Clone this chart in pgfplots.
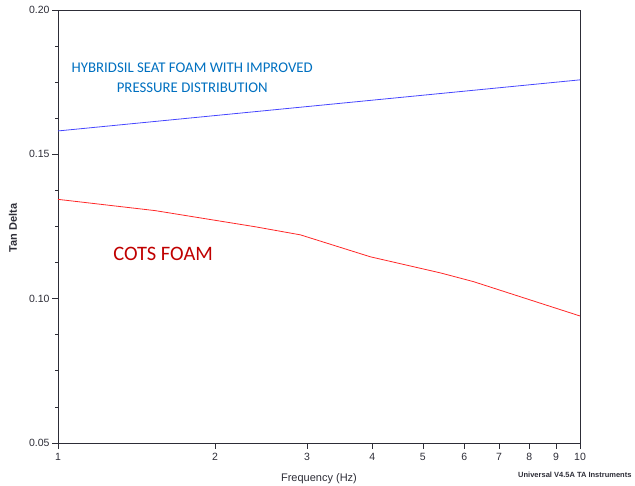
\documentclass[border=0pt]{standalone}
\usepackage{fontspec}
\setmainfont{Liberation Sans}
\newfontfamily\carlito{Carlito}
\usepackage{pgfplots}
\pgfplotsset{compat=1.18}
\usetikzlibrary{calc}
\definecolor{hyb}{RGB}{0,112,192}
\definecolor{cots}{RGB}{192,0,0}
\definecolor{bline}{RGB}{70,70,255}
\definecolor{rline}{RGB}{255,40,40}
\definecolor{axc}{RGB}{45,45,55}
\begin{document}
\begin{tikzpicture}
\begin{axis}[name=ax, scale only axis, width=522pt, height=433pt,
  xmode=log, xmin=1, xmax=10, ymin=0.05, ymax=0.20,
  xtick={1,2,3,4,5,6,7,8,9,10},
  xticklabels={1,2,3,4,5,6,7,8,9,10},
  ytick={0.05,0.10,0.15,0.20},
  minor y tick num=3,
  yticklabel style={xshift=1pt, /pgf/number format/.cd, fixed, fixed zerofill, precision=2},
  /pgf/number format/assume math mode=true,
  tick align=outside, tickpos=left,
  major tick length=6pt, minor tick length=3pt,
  every tick/.style={axc, line width=0.7pt},
  axis line style={axc, line width=0.8pt},
  tick label style={font=\fontsize{10.5}{12}\selectfont, text=axc},
  xticklabel style={yshift=-1pt},
  xlabel={Frequency (Hz)},
  ylabel={\textbf{Tan Delta}},
  xlabel style={at={(axis description cs:0.5,0)}, anchor=center, yshift=-36pt, font=\fontsize{11}{13}\selectfont, text=axc},
  ylabel style={at={(axis description cs:-0.0862,0.497)}, anchor=center, font=\fontsize{11}{13}\selectfont, text=axc},
]
\addplot[bline, line width=0.8pt] coordinates {(1,0.1581) (10,0.1758)};
\addplot[rline, line width=0.8pt] coordinates {
(1,0.1344) (1.535,0.1305) (2.388,0.1249) (2.914,0.1221) (3.967,0.1145)
(5.41,0.1089) (6.25,0.1059) (10,0.0940)};
\node[text=hyb, font=\carlito\fontsize{14.8}{20}\selectfont, align=center] at (axis cs:1.808,0.1765) {HYBRIDSIL SEAT FOAM WITH IMPROVED\\PRESSURE DISTRIBUTION};
\node[text=cots, font=\carlito\fontsize{20.5}{24}\selectfont] at (axis cs:1.59,0.1155) {COTS FOAM};
\end{axis}
\node[anchor=east, font=\bfseries\fontsize{7.5}{8}\selectfont, text=axc] at ($(ax.south east)+(55pt,-32pt)$) {Universal V4.5A TA Instruments};
\pgfresetboundingbox
\path[use as bounding box] ($(ax.south west)+(-58pt,-43pt)$) rectangle ($(ax.north east)+(55pt,10pt)$);
\end{tikzpicture}
\end{document}
